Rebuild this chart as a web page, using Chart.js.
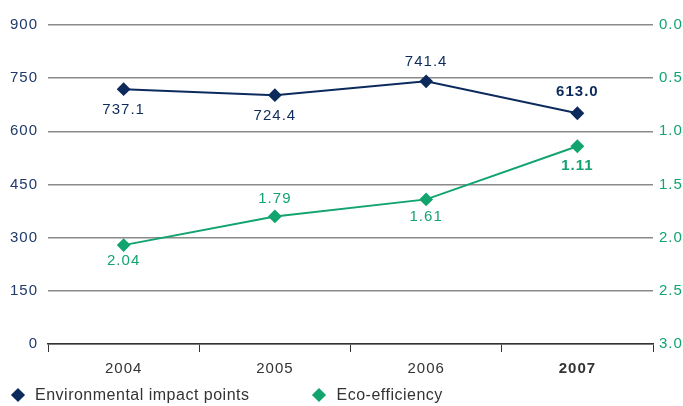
<!DOCTYPE html>
<html>
<head>
<meta charset="utf-8">
<script src="https://cdn.jsdelivr.net/npm/chart.js@4"></script>
<style>
  html, body { margin: 0; padding: 0; background: #fff; }
  #wrap { width: 683px; height: 406px; position: relative; }
  #legenda {
    position: absolute; left: 10px; top: 386px;
    font: 16px 'Liberation Sans', Arial, sans-serif; letter-spacing: 0.5px; color: #333;
    white-space: nowrap;
  }
  #legenda span.item { display: inline-block; margin-right: 62px; }
  #legenda span.mk {
    display: inline-block; width: 10px; height: 10px; transform: rotate(45deg);
    margin: 0 12px 0 3px; position: relative; top: 0px;
  }
</style>
</head>
<body>
<div id="wrap">
  <canvas id="grafico"></canvas>
  <div id="legenda"></div>
</div>
<script>
// Dados do gráfico
var anos = ["2004", "2005", "2006", "2007"];
var impacto = [719, 702, 741, 651];
var impactoTextos = ["737.1", "724.4", "741.4", "613.0"];
var eficiencia = [2.07, 1.80, 1.64, 1.14];
var eficienciaTextos = ["2.04", "1.79", "1.61", "1.11"];
var ticksEsquerda = [0, 150, 300, 450, 600, 750, 900];
var ticksDireita = [0, 0.5, 1, 1.5, 2, 2.5, 3];
var nomes = ["Environmental impact points", "Eco-efficiency"];

var azul = "#0c2b5c";
var verde = "#12a46f";
var fonte = "'Liberation Sans', Arial, sans-serif";

// Posição dos rótulos (acima/abaixo do ponto)
var posImpacto = [21, 21, -19, -21];
var posEficiencia = [16, -18, 17, 20];

// Espaçamento entre letras no canvas
var espacamento = {
    id: "espacamento",
    beforeUpdate: function(chart) { chart.ctx.letterSpacing = "1px"; },
    beforeLayout: function(chart) { chart.ctx.letterSpacing = "1px"; },
    beforeDraw: function(chart) { chart.ctx.letterSpacing = "1px"; }
};

var rotulos = {
    id: "rotulos",
    afterDatasetsDraw: function(chart) {
        var ctx = chart.ctx;
        var conjuntos = [
            { meta: chart.getDatasetMeta(0), textos: impactoTextos, pos: posImpacto, cor: azul },
            { meta: chart.getDatasetMeta(1), textos: eficienciaTextos, pos: posEficiencia, cor: verde }
        ];
        ctx.save();
        ctx.letterSpacing = "1px";
        ctx.textAlign = "center";
        ctx.textBaseline = "middle";
        conjuntos.forEach(function(c) {
            c.meta.data.forEach(function(p, i) {
                var ultimo = i === c.textos.length - 1;
                ctx.font = (ultimo ? "bold " : "") + "15px " + fonte;
                ctx.fillStyle = c.cor;
                ctx.fillText(c.textos[i], p.x, p.y + c.pos[i]);
            });
        });
        ctx.restore();
    }
};

// Legenda em html
var cores = [azul, verde];
var html = '';
for (let i = 0; i < nomes.length; i++) {
    html += '<span class="item"><span class="mk" style="background:' + cores[i] + '"></span>' + nomes[i] + '</span>';
}
document.getElementById('legenda').innerHTML = html;

new Chart("grafico", {
    type: "line",
    data: {
        labels: anos,
        datasets: [{
            label: nomes[0],
            data: impacto,
            yAxisID: "y",
            borderColor: azul,
            backgroundColor: azul,
            borderWidth: 2,
            pointStyle: "rectRot",
            pointRadius: 5.5,
            pointHoverRadius: 5.5,
            tension: 0
        }, {
            label: nomes[1],
            data: eficiencia,
            yAxisID: "y1",
            borderColor: verde,
            backgroundColor: verde,
            borderWidth: 2,
            pointStyle: "rectRot",
            pointRadius: 5.5,
            pointHoverRadius: 5.5,
            tension: 0
        }]
    },
    options: {
        responsive: true,
        maintainAspectRatio: false,
        animation: false,
        layout: { padding: { left: 0, right: 0, top: 25, bottom: 20 } },
        plugins: {
            tooltip: { enabled: false },
            legend: { display: false }
        },
        scales: {
            x: {
                offset: true,
                grid: {
                    offset: true,
                    drawOnChartArea: false,
                    drawTicks: true,
                    tickLength: 8,
                    color: "#333"
                },
                border: { color: "#333", width: 1.5 },
                ticks: {
                    color: "#333",
                    padding: 8,
                    font: function(c) {
                        return {
                            family: fonte,
                            size: 15,
                            weight: c.index === anos.length - 1 ? "bold" : "normal"
                        };
                    }
                }
            },
            y: {
                position: "left",
                min: 0,
                max: 900,
                afterBuildTicks: function(ax) {
                    ax.ticks = ticksEsquerda.map(function(v) { return { value: v }; });
                },
                afterFit: function(ax) { ax.width = 48; },
                grid: { color: "#8a8a8a", lineWidth: 1.5, drawTicks: false },
                border: { display: false },
                ticks: {
                    color: "#1f3a6b",
                    padding: 10,
                    font: { family: fonte, size: 15 }
                }
            },
            y1: {
                position: "right",
                reverse: true,
                min: 0,
                max: 3,
                afterBuildTicks: function(ax) {
                    ax.ticks = ticksDireita.map(function(v) { return { value: v }; });
                },
                afterFit: function(ax) { ax.width = 30; },
                grid: { drawOnChartArea: false, drawTicks: false },
                border: { display: false },
                ticks: {
                    color: verde,
                    padding: 6,
                    font: { family: fonte, size: 15 },
                    callback: function(v) { return Number(v).toFixed(1); }
                }
            }
        }
    },
    plugins: [espacamento, rotulos]
});
</script>
</body>
</html>
